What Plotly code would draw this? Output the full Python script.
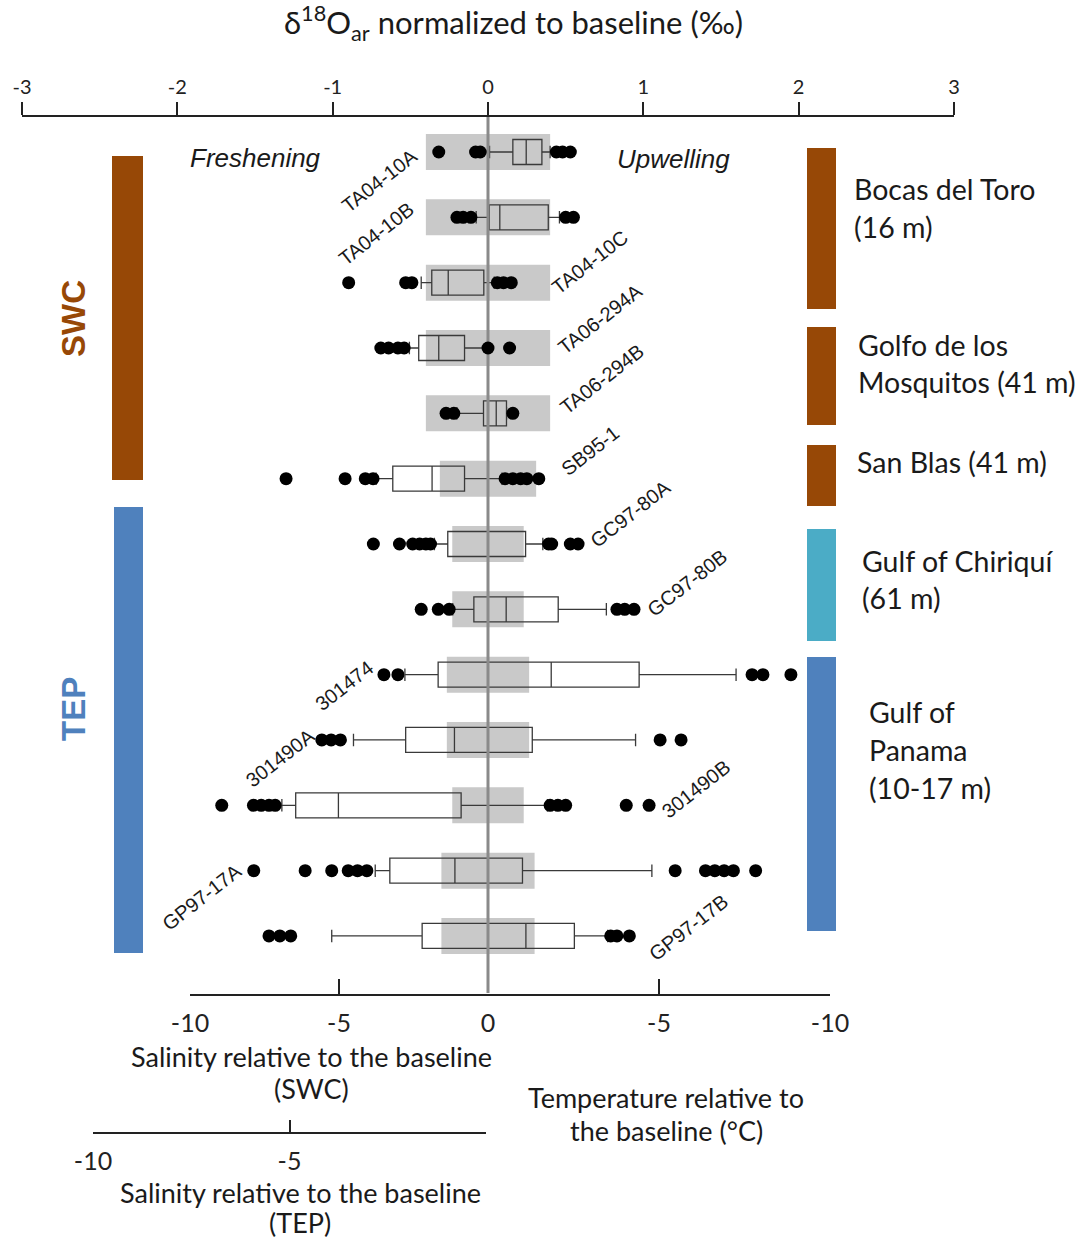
import plotly.graph_objects as go

# ---------------- data ----------------
samples = ["TA04-10A", "TA04-10B", "TA04-10C", "TA06-294A", "TA06-294B", "SB95-1",
           "GC97-80A", "GC97-80B", "301474", "301490A", "301490B", "GP97-17A", "GP97-17B"]

lower_fence = [0.01, -0.076, -0.43, -0.506, -0.20, -0.72, -0.345, -0.227, -0.535, -0.866, -1.327, -0.726, -1.006]
q1 = [0.16, 0.008, -0.362, -0.446, -0.029, -0.613, -0.259, -0.091, -0.321, -0.53, -1.238, -0.632, -0.424]
median = [0.246, 0.076, -0.256, -0.317, 0.053, -0.36, 0.0, 0.117, 0.407, -0.216, -0.963, -0.213, 0.244]
q3 = [0.347, 0.388, -0.027, -0.151, 0.119, -0.151, 0.242, 0.452, 0.973, 0.285, -0.173, 0.222, 0.556]
upper_fence = [0.40, 0.46, 0.04, 0.0, 0.12, 0.09, 0.353, 0.762, 1.597, 0.95, 0.382, 1.055, 0.77]

outliers = [
    [-0.317, -0.08, -0.05, 0.44, 0.48, 0.53],
    [-0.20, -0.16, -0.11, 0.50, 0.55],
    [-0.897, -0.53, -0.49, 0.06, 0.10, 0.15],
    [-0.69, -0.64, -0.58, -0.54, 0.0, 0.139],
    [-0.27, -0.22, 0.16],
    [-1.30, -0.92, -0.79, -0.74, 0.11, 0.16, 0.21, 0.25, 0.327],
    [-0.738, -0.57, -0.485, -0.44, -0.40, -0.37, 0.39, 0.41, 0.53, 0.58],
    [-0.43, -0.32, -0.25, 0.83, 0.88, 0.94],
    [-0.67, -0.58, 1.70, 1.77, 1.95],
    [-1.07, -1.01, -0.95, 1.108, 1.243],
    [-1.714, -1.51, -1.46, -1.41, -1.37, 0.40, 0.45, 0.50, 0.89, 1.037],
    [-1.508, -1.177, -1.006, -0.90, -0.84, -0.78, 1.205, 1.40, 1.46, 1.52, 1.58, 1.723],
    [-1.41, -1.34, -1.27, 0.79, 0.83, 0.91],
]

# half-width of the grey baseline range (‰)
baseline_half = [0.40, 0.40, 0.40, 0.40, 0.40, 0.31, 0.23, 0.23, 0.265, 0.265, 0.23, 0.30, 0.30]

top_ticks = [-3, -2, -1, 0, 1, 2, 3]
swc_sal_ticks = [-10, -5, 0]
temp_ticks = [-5, -10]
tep_sal_ticks = [-10, -5, 0]


def tick_text(vals):
    return ["%g" % v for v in vals]   # plain hyphen-minus as in the original


regions_left = [("SWC", "#974806", 112, 156, 480), ("TEP", "#4F81BD", 114, 507, 953)]
regions_right = [
    (["Bocas del Toro", "(16 m)"], "#974806", 148, 309, 852, [189, 227]),
    (["Golfo de los", "Mosquitos (41 m)"], "#974806", 327, 425, 856, [345, 382]),
    (["San Blas (41 m)"], "#974806", 445, 506, 855, [462]),
    (["Gulf of Chiriquí", "(61 m)"], "#4BACC6", 529, 641, 860, [561, 598]),
    (["Gulf of", "Panama", "(10-17 m)"], "#4F81BD", 657, 931, 867, [712, 750, 788]),
]

# ---------------- layout helpers ----------------
W, H = 1083, 1239
ROW0, STEP = 152.0, 65.33


def px(x):
    return x / W


def py(y):
    return 1 - y / H


def row_of(y):
    return (y - ROW0) / STEP


pos = list(range(len(samples)))
CAL = "Lato, 'Open Sans', sans-serif"
ARI = "'Liberation Sans', Arial, sans-serif"
TXT = "#1a1a1a"

fig = go.Figure()

# grey baseline ranges
fig.add_trace(go.Bar(
    y=pos, x=[2 * h for h in baseline_half], base=[-h for h in baseline_half],
    orientation="h", width=36 / STEP, marker=dict(color="#C9C9C9", line=dict(width=0)),
    hoverinfo="skip", showlegend=False))

# boxes
fig.add_trace(go.Box(
    y=pos, q1=q1, median=median, q3=q3, lowerfence=lower_fence, upperfence=upper_fence,
    orientation="h", width=25 / STEP, whiskerwidth=0.5, boxpoints=False,
    fillcolor="rgba(0,0,0,0)", line=dict(color="#3a3a3a", width=1.3),
    hoverinfo="skip", showlegend=False))

# centre (zero) line
fig.add_trace(go.Scatter(
    x=[0, 0], y=[row_of(117), row_of(993)], mode="lines",
    line=dict(color="#8a8a8a", width=3), hoverinfo="skip", showlegend=False))

# outliers
ox, oy = [], []
for i, vals in enumerate(outliers):
    for v in vals:
        ox.append(v)
        oy.append(pos[i])
fig.add_trace(go.Scatter(
    x=ox, y=oy, mode="markers", marker=dict(color="black", size=13, line=dict(width=0)),
    hoverinfo="skip", showlegend=False))

# dummy traces so the secondary axes are drawn
for ax, rng in (("x2", [-10, 0]), ("x3", [0, -10]), ("x4", [-10, 0])):
    fig.add_trace(go.Scatter(x=rng, y=[row_of(1000), row_of(1000)], xaxis=ax, yaxis="y",
                             mode="markers", marker=dict(opacity=0), hoverinfo="skip",
                             showlegend=False))

shapes = []
annotations = []


def ann(text, x, y, size, family=CAL, color=TXT, xanchor="center", angle=0):
    annotations.append(dict(text=text, x=px(x), y=py(y), xref="paper", yref="paper",
                            xanchor=xanchor, yanchor="middle", showarrow=False,
                            textangle=angle, font=dict(family=family, size=size, color=color)))


# left region bars + labels
for name, col, x0, y0, y1 in regions_left:
    shapes.append(dict(type="rect", xref="paper", yref="paper", x0=px(x0), x1=px(143),
                       y0=py(y1), y1=py(y0), fillcolor=col, line=dict(width=0), layer="below"))
ann("<b>SWC</b>", 73, 319, 33, family=ARI, color="#974806", angle=-90)
ann("<b>TEP</b>", 73, 709, 33, family=ARI, color="#4F81BD", angle=-90)

# right region bars + labels
for lines, col, y0, y1, tx, tys in regions_right:
    shapes.append(dict(type="rect", xref="paper", yref="paper", x0=px(807), x1=px(836),
                       y0=py(y1), y1=py(y0), fillcolor=col, line=dict(width=0), layer="below"))
    for t, ty in zip(lines, tys):
        ann(t, tx, ty, 28.5, xanchor="left")

# rotated sample labels
label_xy = [(379, 181), (376, 234), (590, 262), (600, 319), (602, 379), (590, 451), (630, 514),
            (687, 583), (344, 686), (280, 758), (696, 789), (202, 897), (688, 928)]
for s, (lx, ly) in zip(samples, label_xy):
    ann(s, lx, ly, 20, family=ARI, angle=-38)

# italic words
ann("<i>Freshening</i>", 255, 158, 26, family=ARI)
ann("<i>Upwelling</i>", 673, 159, 26, family=ARI)

# titles
ann("δ<sup>18</sup>O<sub>ar</sub> normalized to baseline (‰)", 513, 23, 31)
for t, x, y in (("Salinity relative to the baseline", 311, 1056), ("(SWC)", 311, 1088),
                ("Temperature relative to", 666, 1097), ("the baseline (°C)", 666, 1130),
                ("Salinity relative to the baseline", 300, 1192), ("(TEP)", 300, 1222)):
    ann(t, x, y, 27)

axis_common = dict(showgrid=False, zeroline=False, showline=True, linecolor="#222",
                   linewidth=1.5, tickcolor="#222", tickwidth=1.5, fixedrange=True,
                   automargin=False)

fig.update_layout(
    width=W, height=H, margin=dict(l=0, r=0, t=0, b=0, pad=0, autoexpand=False),
    paper_bgcolor="white", plot_bgcolor="rgba(0,0,0,0)",
    showlegend=False, shapes=shapes, annotations=annotations,
    xaxis=dict(domain=[px(22), px(954)], range=[-3, 3], side="top", anchor="y",
               ticks="outside", ticklen=13, tickvals=top_ticks, ticktext=tick_text(top_ticks),
               tickfont=dict(family=CAL, size=20, color="#222"), **axis_common),
    xaxis2=dict(domain=[px(190), px(488)], range=[-10, 0], anchor="free", position=py(995),
                side="bottom", ticks="inside", ticklen=15, tickvals=swc_sal_ticks,
                ticktext=tick_text(swc_sal_ticks), ticklabelstandoff=6,
                tickfont=dict(family=CAL, size=25, color="#222"), **axis_common),
    xaxis3=dict(domain=[px(488), px(830)], range=[0, -10], anchor="free", position=py(995),
                side="bottom", ticks="inside", ticklen=15, tickvals=temp_ticks,
                ticktext=tick_text(temp_ticks), ticklabelstandoff=6,
                tickfont=dict(family=CAL, size=25, color="#222"), **axis_common),
    xaxis4=dict(domain=[px(93), px(486)], range=[-10, 0], anchor="free", position=py(1133),
                side="bottom", ticks="inside", ticklen=12, tickvals=tep_sal_ticks,
                ticktext=["-10", "-5", ""], ticklabelstandoff=6,
                tickfont=dict(family=CAL, size=25, color="#222"), **axis_common),
    yaxis=dict(domain=[0, py(117)], range=[row_of(H), row_of(117)], visible=False,
               fixedrange=True),
)

fig.write_html("out.html")
